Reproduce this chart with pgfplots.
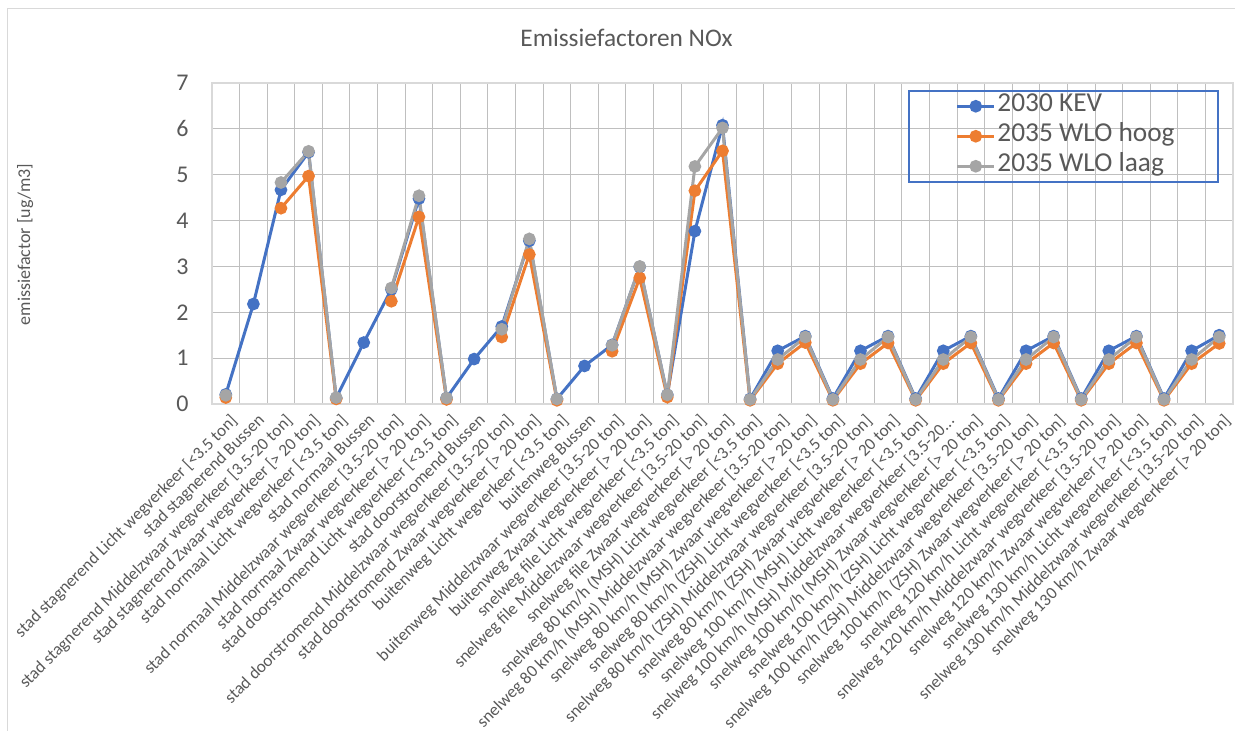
\documentclass[border=0pt]{standalone}
\usepackage{pgfplots}
\usepackage{pgfplotstable}
\pgfplotsset{compat=1.18}
\usepackage{fontspec}
\setmainfont{Carlito}
\definecolor{kev}{HTML}{4472C4}
\definecolor{hoog}{HTML}{ED7D31}
\definecolor{laag}{HTML}{A5A5A5}
\definecolor{grid}{HTML}{D9D9D9}
\definecolor{txt}{HTML}{595959}
\pgfplotstableread{
x kev hoog laag
0 0.21 0.14 0.19
1 2.18 nan nan
2 4.67 4.27 4.83
3 5.49 4.97 5.51
4 0.13 0.11 0.14
5 1.34 nan nan
6 2.50 2.24 2.53
7 4.48 4.08 4.54
8 0.13 0.10 0.13
9 0.98 nan nan
10 1.69 1.46 1.63
11 3.56 3.26 3.60
12 0.11 0.08 0.11
13 0.83 nan nan
14 1.29 1.15 1.28
15 2.99 2.75 3.00
16 0.20 0.15 0.20
17 3.77 4.65 5.18
18 6.08 5.52 6.02
19 0.11 0.08 0.10
20 1.16 0.88 0.97
21 1.48 1.34 1.46
22 0.12 0.08 0.10
23 1.16 0.88 0.97
24 1.48 1.33 1.46
25 0.12 0.08 0.10
26 1.16 0.88 0.97
27 1.48 1.33 1.46
28 0.12 0.08 0.10
29 1.16 0.88 0.97
30 1.48 1.33 1.46
31 0.12 0.08 0.10
32 1.16 0.88 0.97
33 1.48 1.33 1.46
34 0.12 0.08 0.10
35 1.16 0.88 0.97
36 1.50 1.32 1.46
}\datatable
\begin{document}
\begin{tikzpicture}[x=1pt,y=1pt]
\useasboundingbox (0,0) rectangle (926.25pt,548.25pt);
\draw[grid, line width=0.9pt] (5.6pt,-5pt) -- (5.6pt,542pt) -- (935pt,542pt);
\node[txt, anchor=base, font=\fontsize{19}{22}\selectfont] at (469.9pt,513.2pt) {Emissiefactoren NOx};
\node[txt, anchor=base, rotate=90, font=\fontsize{13.5}{16}\selectfont] at (22.5pt,364.9pt) {emissiefactor [ug/m3]};
\begin{axis}[
  at={(159pt,245.25pt)}, anchor=south west,
  width=765.75pt, height=240.75pt, scale only axis,
  xmin=-0.5, xmax=36.5, ymin=0, ymax=7,
  ytick={0,1,2,3,4,5,6,7},
  xtick={0,1,2,3,4,5,6,7,8,9,10,11,12,13,14,15,16,17,18,19,20,21,22,23,24,25,26,27,28,29,30,31,32,33,34,35,36},
  minor xtick={-0.5,0.5,...,36.5},
  xminorgrids, ymajorgrids, xmajorgrids=false,
  major tick length=0pt, minor tick length=0pt,
  grid style={grid, line width=0.75pt},
  minor grid style={grid, line width=0.75pt},
  axis line style={grid, line width=0.9pt},
  /pgf/number format/assume math mode=true,
  yticklabel style={txt, font=\fontsize{18}{20}\selectfont, xshift=-14pt},
  xticklabel style={txt, font=\fontsize{12.9}{14}\selectfont, inner sep=0pt, xshift=2.5pt, yshift=-6.5pt, rotate=45, anchor=north east},
  xticklabels={
    {stad stagnerend Licht wegverkeer [<3.5 ton]},
    {stad stagnerend Bussen},
    {stad stagnerend Middelzwaar wegverkeer [3.5-20 ton]},
    {stad stagnerend Zwaar wegverkeer [> 20 ton]},
    {stad normaal Licht wegverkeer [<3.5 ton]},
    {stad normaal Bussen},
    {stad normaal Middelzwaar wegverkeer [3.5-20 ton]},
    {stad normaal Zwaar wegverkeer [> 20 ton]},
    {stad doorstromend Licht wegverkeer [<3.5 ton]},
    {stad doorstromend Bussen},
    {stad doorstromend Middelzwaar wegverkeer [3.5-20 ton]},
    {stad doorstromend Zwaar wegverkeer [> 20 ton]},
    {buitenweg Licht wegverkeer [<3.5 ton]},
    {buitenweg Bussen},
    {buitenweg Middelzwaar wegverkeer [3.5-20 ton]},
    {buitenweg Zwaar wegverkeer [> 20 ton]},
    {snelweg file Licht wegverkeer [<3.5 ton]},
    {snelweg file Middelzwaar wegverkeer [3.5-20 ton]},
    {snelweg file Zwaar wegverkeer [> 20 ton]},
    {snelweg 80 km/h (MSH) Licht wegverkeer [<3.5 ton]},
    {snelweg 80 km/h (MSH) Middelzwaar wegverkeer [3.5-20 ton]},
    {snelweg 80 km/h (MSH) Zwaar wegverkeer [> 20 ton]},
    {snelweg 80 km/h (ZSH) Licht wegverkeer [<3.5 ton]},
    {snelweg 80 km/h (ZSH) Middelzwaar wegverkeer [3.5-20 ton]},
    {snelweg 80 km/h (ZSH) Zwaar wegverkeer [> 20 ton]},
    {snelweg 100 km/h (MSH) Licht wegverkeer [<3.5 ton]},
    {snelweg 100 km/h (MSH) Middelzwaar wegverkeer [3.5-20.{}.{}.},
    {snelweg 100 km/h (MSH) Zwaar wegverkeer [> 20 ton]},
    {snelweg 100 km/h (ZSH) Licht wegverkeer [<3.5 ton]},
    {snelweg 100 km/h (ZSH) Middelzwaar wegverkeer [3.5-20 ton]},
    {snelweg 100 km/h (ZSH) Zwaar wegverkeer [> 20 ton]},
    {snelweg 120 km/h Licht wegverkeer [<3.5 ton]},
    {snelweg 120 km/h Middelzwaar wegverkeer [3.5-20 ton]},
    {snelweg 120 km/h Zwaar wegverkeer [> 20 ton]},
    {snelweg 130 km/h Licht wegverkeer [<3.5 ton]},
    {snelweg 130 km/h Middelzwaar wegverkeer [3.5-20 ton]},
    {snelweg 130 km/h Zwaar wegverkeer [> 20 ton]}
  },
  unbounded coords=jump,
  every axis plot/.append style={line width=2.25pt, mark=*, mark size=3.6pt, mark options={solid}},
  legend image code/.code={\draw[#1, mark repeat=2, mark phase=2] plot coordinates {(0pt,0pt) (13.9pt,0pt) (27.75pt,0pt)};},
  legend cell align=left,
  legend style={at={(rel axis cs:0.7282,0.9751)}, anchor=north west, draw=none, fill=none,
    inner sep=0pt, row sep=0pt, column sep=0pt,
    font=\fontsize{20.5}{22}\selectfont, text=txt,
    nodes={inner ysep=0pt, inner xsep=1.3pt, text height=15.5pt, text depth=7pt}},
]
\draw[kev, line width=1.1pt] (rel axis cs:0.6826,0.9751) rectangle (rel axis cs:0.9853,0.6916);
\addplot[kev] table[x=x,y=kev] {\datatable};
\addplot[hoog] table[x=x,y=hoog] {\datatable};
\addplot[laag] table[x=x,y=laag] {\datatable};
\legend{2030 KEV, 2035 WLO hoog, 2035 WLO laag}
\end{axis}
\end{tikzpicture}
\end{document}
